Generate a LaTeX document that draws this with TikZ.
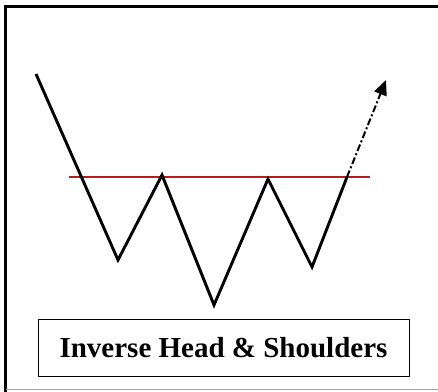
\documentclass[tikz,border=0pt]{standalone}
\usepackage{fontspec}
\setmainfont{Liberation Serif}
\usetikzlibrary{arrows.meta}
\definecolor{neckred}{RGB}{180,30,30}
\begin{document}
\begin{tikzpicture}[x=1pt,y=-1pt,
  price/.style={line width=2.9pt,line join=miter,black},
  neck/.style={line width=1.3pt,neckred},
  proj/.style={line width=2pt,dash pattern=on 7pt off 2.5pt on 2pt off 2.5pt,-{Triangle[length=15pt,width=13pt]}},
  labelbox/.style={draw,line width=1pt,minimum width=371pt,minimum height=57pt,font=\bfseries\fontsize{29}{32}\selectfont,inner sep=0pt}]
\useasboundingbox (0,0) rectangle (438,391);
\fill[white] (0,0) rectangle (438,391);
% outer frame
\draw[line width=3pt] (5.5,392) -- (5.5,6.5) -- (440,6.5);
\draw[line width=0.8pt,gray!70] (5.5,389) -- (440,389);
% points
\coordinate (s) at (36,74);
\coordinate (b1) at (118,260);
\coordinate (p1) at (162,175);
\coordinate (h) at (214,305);
\coordinate (p2) at (268,179);
\coordinate (b3) at (312,267);
\coordinate (x) at (347,177);
\coordinate (t) at (386,80);
\coordinate (nl) at (69,177);
\coordinate (nr) at (370,177);
\draw[neck] (nl) -- (nr);
\draw[price] (s) -- (b1) -- (p1) -- (h) -- (p2) -- (b3) -- (x);
\draw[proj] (x) -- (t);
\node[labelbox] (lab) at (223.5,347.5) {Inverse Head \& Shoulders};
\end{tikzpicture}
\end{document}
